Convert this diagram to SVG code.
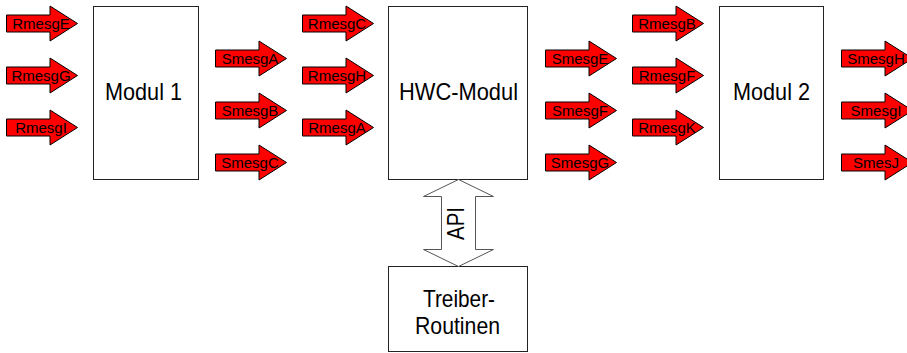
<svg xmlns="http://www.w3.org/2000/svg" width="907" height="353" viewBox="0 0 907 353">
<style>
.box{fill:#fff;stroke:#222;stroke-width:1}
.big{font-family:"Liberation Sans",Arial,sans-serif;font-size:24px;fill:#000;text-anchor:middle}
.msg{fill:#ff0000;stroke:#000;stroke-width:1}
.lbl{font-family:"Liberation Sans",Arial,sans-serif;font-size:15px;fill:#000;text-anchor:middle}
.api{fill:#fff;stroke:#555;stroke-width:1}
</style>
<defs>
<path id="arr" d="M0,-8.5 H43.5 V-17.5 L71,0 L43.5,17.5 V8.5 H0 Z"/>
</defs>
<g id="modul1"><rect class="box" x="93.5" y="6.5" width="105" height="173"/><text class="big" x="143.5" y="100" textLength="77" lengthAdjust="spacingAndGlyphs">Modul 1</text></g>
<g id="hwc"><rect class="box" x="388.5" y="6.5" width="139" height="173"/><text class="big" x="458.5" y="100" textLength="119" lengthAdjust="spacingAndGlyphs">HWC-Modul</text></g>
<g id="modul2"><rect class="box" x="719.5" y="6.5" width="104" height="173"/><text class="big" x="771.5" y="100" textLength="77" lengthAdjust="spacingAndGlyphs">Modul 2</text></g>
<g id="treiber"><rect class="box" x="388.5" y="266.5" width="139" height="85"/><text class="big" x="459" y="306.5" textLength="72" lengthAdjust="spacingAndGlyphs">Treiber-</text><text class="big" x="457.5" y="333.5" textLength="85" lengthAdjust="spacingAndGlyphs">Routinen</text></g>
<g id="connectors">
<g id="api"><polygon class="api" points="458.5,179.5 423.5,196.5 441.5,196.5 441.5,249.5 423.5,249.5 458.5,266.5 493.5,249.5 475.5,249.5 475.5,196.5 493.5,196.5"/><text class="big" transform="translate(464,223.5) rotate(-90)" x="0" y="0" font-size="22" textLength="33" lengthAdjust="spacingAndGlyphs">API</text></g>
<g id="m1in">
<use class="msg" href="#arr" x="6.5" y="23.5"/><text class="lbl" x="41" y="28.5">RmesgE</text>
<use class="msg" href="#arr" x="6.5" y="75.5"/><text class="lbl" x="41" y="80.5">RmesgG</text>
<use class="msg" href="#arr" x="6.5" y="127.5"/><text class="lbl" x="41" y="132.5">RmesgI</text>
</g>
<g id="m1out">
<use class="msg" href="#arr" x="215.5" y="58.5"/><text class="lbl" x="250" y="63.5">SmesgA</text>
<use class="msg" href="#arr" x="215.5" y="110.5"/><text class="lbl" x="250" y="115.5">SmesgB</text>
<use class="msg" href="#arr" x="215.5" y="162.5"/><text class="lbl" x="250" y="167.5">SmesgC</text>
</g>
<g id="hwcin">
<use class="msg" href="#arr" x="302.5" y="23.5"/><text class="lbl" x="337" y="28.5">RmesgC</text>
<use class="msg" href="#arr" x="302.5" y="75.5"/><text class="lbl" x="337" y="80.5">RmesgH</text>
<use class="msg" href="#arr" x="302.5" y="127.5"/><text class="lbl" x="337" y="132.5">RmesgA</text>
</g>
<g id="hwcout">
<use class="msg" href="#arr" x="545.5" y="58.5"/><text class="lbl" x="580" y="63.5">SmesgE</text>
<use class="msg" href="#arr" x="545.5" y="110.5"/><text class="lbl" x="580" y="115.5">SmesgF</text>
<use class="msg" href="#arr" x="545.5" y="162.5"/><text class="lbl" x="580" y="167.5">SmesgG</text>
</g>
<g id="m2in">
<use class="msg" href="#arr" x="632.5" y="23.5"/><text class="lbl" x="667" y="28.5">RmesgB</text>
<use class="msg" href="#arr" x="632.5" y="75.5"/><text class="lbl" x="667" y="80.5">RmesgF</text>
<use class="msg" href="#arr" x="632.5" y="127.5"/><text class="lbl" x="667" y="132.5">RmesgK</text>
</g>
<g id="m2out">
<use class="msg" href="#arr" x="841.5" y="58.5"/><text class="lbl" x="876" y="63.5">SmesgH</text>
<use class="msg" href="#arr" x="841.5" y="110.5"/><text class="lbl" x="876" y="115.5">SmesgI</text>
<use class="msg" href="#arr" x="841.5" y="162.5"/><text class="lbl" x="876" y="167.5">SmesJ</text>
</g>
</g>
</svg>
